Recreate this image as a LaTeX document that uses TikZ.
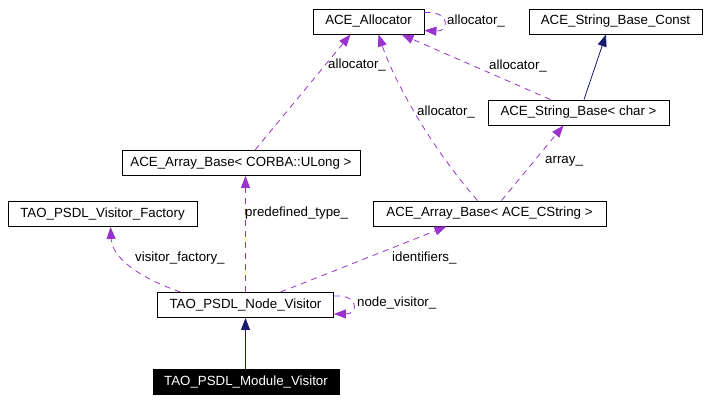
\documentclass[tikz,border=0pt]{standalone}
\usepackage{fontspec}
\setmainfont{Liberation Sans}
\usetikzlibrary{arrows.meta}
\definecolor{edgepurple}{HTML}{9A32CD}
\definecolor{edgenavy}{HTML}{191970}

\begin{document}
\begin{tikzpicture}[x=1pt,y=-1pt,
    font=\fontsize{13.3}{16}\selectfont,
    cls/.style={draw, line width=0.9pt, minimum height=25pt,
      inner sep=0pt, anchor=center},
    uses/.style={draw=edgepurple, line width=0.8pt,
      dash pattern=on 6pt off 5pt,
      -{Triangle[length=12pt,width=9pt]}},
    isa/.style={draw=edgenavy, line width=0.8pt,
      -{Triangle[length=12pt,width=9pt]}},
    lbl/.style={anchor=west, inner sep=0pt}]
    \useasboundingbox (0,0) rectangle (710,402);
    % classes
    \node[cls, minimum width=111pt] (alloc) at (368.5,21.5) {ACE\_Allocator};
    \node[cls, minimum width=173pt] (sbconst) at (615.5,21.5) {ACE\_String\_Base\_Const};
    \node[cls, minimum width=181pt] (sbchar) at (578.5,112.5) {ACE\_String\_Base< char >};
    \node[cls, minimum width=238pt] (abulong) at (241,163) {ACE\_Array\_Base< CORBA::ULong >};
    \node[cls, minimum width=189pt] (factory) at (102.5,214) {TAO\_PSDL\_Visitor\_Factory};
    \node[cls, minimum width=233pt] (abcstr) at (489.5,213.5) {ACE\_Array\_Base< ACE\_CString >};
    \node[cls, minimum width=176pt] (nodevis) at (245.5,305) {TAO\_PSDL\_Node\_Visitor};
    \node[cls, minimum width=186pt, fill=black, text=white] (modvis) at (246,382) {TAO\_PSDL\_Module\_Visitor};

    % inheritance
    \draw[isa] (modvis.north -| nodevis.south) -- (nodevis.south);
    \draw[isa] ([xshift=5.5pt]sbchar.north) -- ([xshift=-9.5pt]sbconst.south);

    % usage
    \draw[uses] ([yshift=-4pt]alloc.north east) .. controls (450,10) and (450,32) .. ([yshift=4pt]alloc.south east);
    \draw[uses] ([xshift=14pt]abulong.north) -- ([xshift=-18pt]alloc.south);
    \draw[uses] ([xshift=-12pt]abcstr.north) .. controls (425,140) and (392,75) .. ([xshift=10pt]alloc.south);
    \draw[uses] ([xshift=-28pt]sbchar.north) -- ([xshift=33pt]alloc.south);
    \draw[uses] ([xshift=12pt]abcstr.north) -- ([xshift=-15pt]sbchar.south);
    \draw[uses] ([xshift=-65pt]nodevis.north) .. controls (140,278) and (112,258) .. ([xshift=8pt]factory.south);
    \draw[uses] (nodevis.north) -- (nodevis.north |- abulong.south);
    \draw[uses] ([xshift=35pt]nodevis.north) -- ([xshift=-43pt]abcstr.south);
    \draw[uses] ([yshift=-4pt]nodevis.north east) .. controls (359,294) and (359,314) .. ([yshift=4pt]nodevis.south east);

    % labels
    \node[lbl] (lalloc) at (447,21) {allocator\_};
    \node[lbl] (lulong) at (328,65) {allocator\_};
    \node[lbl] (lcstr) at (417,112) {allocator\_};
    \node[lbl] (lchar) at (489,66) {allocator\_};
    \node[lbl] (larray) at (545,161) {array\_};
    \node[lbl] (lpredef) at (245,213) {predefined\_type\_};
    \node[lbl] (lfactory) at (135,258) {visitor\_factory\_};
    \node[lbl] (lident) at (392,258) {identifiers\_};
    \node[lbl] (lnode) at (357,303) {node\_visitor\_};
\end{tikzpicture}
\end{document}
